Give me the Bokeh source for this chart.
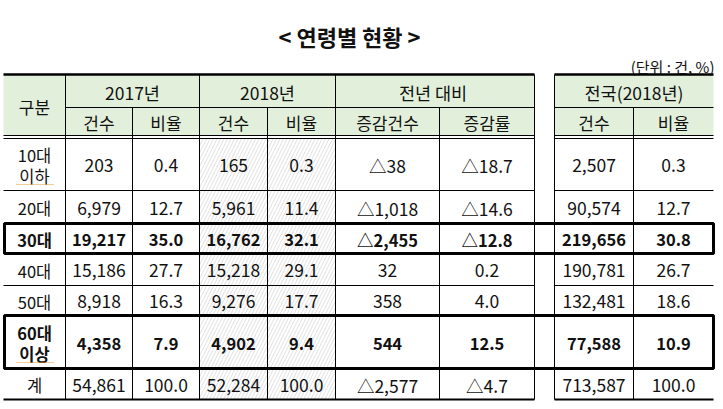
from bokeh.plotting import figure
from bokeh.models import Range1d
from bokeh.embed import file_html
from bokeh.resources import INLINE
from bokeh.core.properties import value

# ---------------- data ----------------
title = "< 연령별 현황 >"
unit_note = "(단위 : 건, %)"
groups = ["2017년", "2018년", "전년  대비", "전국(2018년)"]
subheads = ["건수", "비율", "건수", "비율", "증감건수", "증감률", "건수", "비율"]
row_head = "구분"
ages = ["10대\n이하", "20대", "30대", "40대", "50대", "60대\n이상", "계"]
cnt_2017 = [203, 6979, 19217, 15186, 8918, 4358, 54861]
rate_2017 = [0.4, 12.7, 35.0, 27.7, 16.3, 7.9, 100.0]
cnt_2018 = [165, 5961, 16762, 15218, 9276, 4902, 52284]
rate_2018 = [0.3, 11.4, 32.1, 29.1, 17.7, 9.4, 100.0]
diff_cnt = [-38, -1018, -2455, 32, 358, 544, -2577]
diff_rate = [-18.7, -14.6, -12.8, 0.2, 4.0, 12.5, -4.7]
nat_cnt = [2507, 90574, 219656, 190781, 132481, 77588, 713587]
nat_rate = [0.3, 12.7, 30.8, 26.7, 18.6, 10.9, 100.0]
bold_rows = ["30대", "60대\n이상"]

# ---------------- layout (pixels) ----------------
W, H = 715, 401
FONT = "Noto Sans CJK KR"
TXT = "#111111"
GREEN = "#E2EFDA"
xe1 = [3, 65, 132, 199, 267, 335, 439, 534]   # left block column edges
xe2 = [554, 633, 713]                          # right block column edges
hy = [74, 107, 135]                            # header rows
ry = [138, 190, 223, 253, 285, 315, 368, 399]  # data rows

p = figure(width=W, height=H, output_backend="svg", toolbar_location=None,
           x_range=Range1d(0, W), y_range=Range1d(H, 0),
           x_axis_location=None, y_axis_location=None, min_border=0)
p.grid.visible = False
p.outline_line_color = None
p.background_fill_color = "white"
p.border_fill_color = "white"

# header backgrounds
p.quad(left=[xe1[0], xe2[0]], right=[xe1[-1], xe2[-1]], top=[hy[0], hy[0]],
       bottom=[hy[2], hy[2]], fill_color=GREEN, line_color=None)

# hatch on 2018 columns
p.quad(left=[xe1[3]], right=[xe1[5]], top=[ry[0]], bottom=[ry[-1]],
       fill_color=None, line_color=None, hatch_pattern="/",
       hatch_color="#d2d2d2", hatch_weight=0.7, hatch_scale=7)

def seg(x0, y0, x1, y1, w=1, color="black"):
    p.segment(x0=x0, y0=y0, x1=x1, y1=y1, line_color=color, line_width=w)

# horizontal thin lines
hx0, hx1, hyy = [], [], []
for blk in (xe1, xe2):
    start = blk[1] if blk is xe1 else blk[0]
    hx0.append(start); hx1.append(blk[-1]); hyy.append(hy[1])
    for y in (hy[2], ry[0]):
        hx0.append(blk[0]); hx1.append(blk[-1]); hyy.append(y)
    for y in ry[1:-1]:
        hx0.append(blk[0]); hx1.append(blk[-1]); hyy.append(y)
seg(hx0, hyy, hx1, hyy, 1)
# thick top and bottom
seg([xe1[0], xe2[0]], [hy[0]] * 2, [xe1[-1], xe2[-1]], [hy[0]] * 2, 2.5)
seg([xe1[0], xe2[0]], [ry[-1]] * 2, [xe1[-1], xe2[-1]], [ry[-1]] * 2, 2)

# vertical lines
full = [xe1[1], xe1[3], xe1[5], xe1[7], xe2[0]]
half = [xe1[2], xe1[4], xe1[6], xe2[1]]
seg(full, [hy[0]] * len(full), full, [ry[-1]] * len(full), 1)
seg(half, [hy[1]] * len(half), half, [ry[-1]] * len(half), 1)

# bold boxes
for r in bold_rows:
    i = ages.index(r)
    p.quad(left=[4], right=[xe2[-1]], top=[ry[i]], bottom=[ry[i + 1]],
           fill_color=None, line_color="black", line_width=3)

def txt(x, y, t, size="16px", bold=False, align="center"):
    p.text(x=x, y=y, text=t, text_font=value(FONT), text_font_size=size,
           text_color=TXT, text_align=align, text_baseline="middle",
           text_font_style="bold" if bold else "normal")

# title and unit
txt([349], [35], [title], "22px", True)
txt([714], [66], [unit_note], "15px", False, "right")

# headers
cx1 = [(a + b) / 2 for a, b in zip(xe1[:-1], xe1[1:])]
cx2 = [(a + b) / 2 for a, b in zip(xe2[:-1], xe2[1:])]
txt([cx1[0]], [(hy[0] + hy[2]) / 2 + 1], [row_head], "17px")
gx = [(xe1[1] + xe1[3]) / 2, (xe1[3] + xe1[5]) / 2, (xe1[5] + xe1[7]) / 2,
      (xe2[0] + xe2[2]) / 2]
txt(gx, [(hy[0] + hy[1]) / 2 + 1] * 4, groups, "17.5px")
txt(cx1[1:] + cx2, [(hy[1] + hy[2]) / 2 + 1] * 8, subheads, "17px")

def fnum(v):
    return format(v, ",")

def fdiff(v, dec):
    s = f"{abs(v):,.{dec}f}" if dec else f"{abs(v):,}"
    return ("△" + s) if v < 0 else s

cols = [
    [fnum(v) for v in cnt_2017], [f"{v:.1f}" for v in rate_2017],
    [fnum(v) for v in cnt_2018], [f"{v:.1f}" for v in rate_2018],
    [fdiff(v, 0) for v in diff_cnt], [fdiff(v, 1) for v in diff_rate],
    [fnum(v) for v in nat_cnt], [f"{v:.1f}" for v in nat_rate],
]
colx = cx1[1:] + cx2
for i, age in enumerate(ages):
    yc = (ry[i] + ry[i + 1]) / 2 + 1
    b = age in bold_rows
    parts = age.split("\n")
    n = len(parts)
    ys = [yc + (k - (n - 1) / 2) * 21 for k in range(n)]
    txt([cx1[0]] * n, ys, parts, "16.5px", b)
    txt(colx, [yc] * len(colx), [c[i] for c in cols],
        "16.5px" if b else "17.5px", b)

# spell-check style dotted underline under two-line labels
for age in ("10대\n이하", "60대\n이상"):
    i = ages.index(age)
    yb = ry[i + 1] - 6
    p.segment(x0=[16], y0=[yb], x1=[54], y1=[yb], line_color="#E49B2F",
              line_width=1, line_dash="1 1")

open("out.html", "w").write(file_html(p, INLINE))
